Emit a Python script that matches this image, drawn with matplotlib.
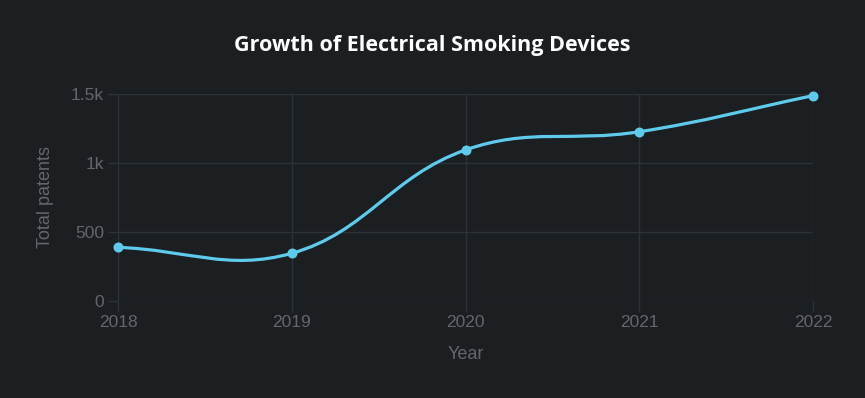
import numpy as np
import matplotlib
matplotlib.use("Agg")
import matplotlib.pyplot as plt
from matplotlib.path import Path
from matplotlib.patches import PathPatch

years = [2018, 2019, 2020, 2021, 2022]
patents = [387, 344, 1094, 1226, 1488]
y_ticks = [0, 500, 1000, 1500]
y_tick_labels = ["0", "500", "1k", "1.5k"]

BG = "#1b1f22"
GRID = "#2d3237"
TXT = "#63676b"
LINE = "#5fcbec"

fig = plt.figure(figsize=(8.65, 3.98), dpi=100, facecolor=BG)
ax = fig.add_axes([118/865, 97.3/398, (813-118)/865, (300.7-94)/398])
ax.set_facecolor(BG)
ax.set_xlim(years[0], years[-1])
ax.set_ylim(0, 1500)

for s in ax.spines.values():
    s.set_visible(False)
ax.set_xticks(years)
ax.set_xticklabels([str(y) for y in years])
ax.set_yticks(y_ticks)
ax.set_yticklabels(y_tick_labels)
ax.grid(True, color=GRID, linewidth=1)
ax.tick_params(axis="both", colors=GRID, labelcolor=TXT, width=1, labelsize=12.5)
ax.tick_params(axis="x", length=8, pad=2)
ax.tick_params(axis="y", length=7, pad=3)
for lab in ax.get_xticklabels() + ax.get_yticklabels():
    lab.set_family("Liberation Sans")

ax.set_xlabel("Year", color=TXT, fontsize=13, family="Liberation Sans", labelpad=12)
ax.set_ylabel("Total patents", color=TXT, fontsize=13, family="Liberation Sans", labelpad=12)
ax.set_axisbelow(True)

# Chart.js-style spline (tension 0.4) computed in pixel space
fig.canvas.draw()
pts = ax.transData.transform(np.column_stack([years, patents]))
t = 0.4
n = len(pts)
cp_prev = [None]*n
cp_next = [None]*n
for i in range(n):
    cur = pts[i]
    prev = pts[i-1] if i > 0 else cur
    nxt = pts[i+1] if i < n-1 else cur
    d01 = np.hypot(*(cur - prev))
    d12 = np.hypot(*(nxt - cur))
    tot = d01 + d12
    s01 = d01/tot if tot else 0
    s12 = d12/tot if tot else 0
    cp_prev[i] = cur - t*s01*(nxt - prev)
    cp_next[i] = cur + t*s12*(nxt - prev)
verts = [pts[0]]
codes = [Path.MOVETO]
for i in range(n-1):
    verts += [cp_next[i], cp_prev[i+1], pts[i+1]]
    codes += [Path.CURVE4]*3
inv = ax.transData.inverted()
verts_d = inv.transform(np.array(verts))
patch = PathPatch(Path(verts_d, codes), facecolor="none", edgecolor=LINE,
                  linewidth=2.3, transform=ax.transData, clip_on=False, zorder=3)
ax.add_patch(patch)
ax.scatter(years, patents, s=52, color=LINE, zorder=4, clip_on=False, linewidths=0)

fig.text(432/865, 1 - 46/398, "Growth of Electrical Smoking Devices", color="white",
         fontsize=15.5, fontweight="bold", family="Open Sans", ha="center", va="center")

fig.savefig("out.png", dpi=100, facecolor=BG)
